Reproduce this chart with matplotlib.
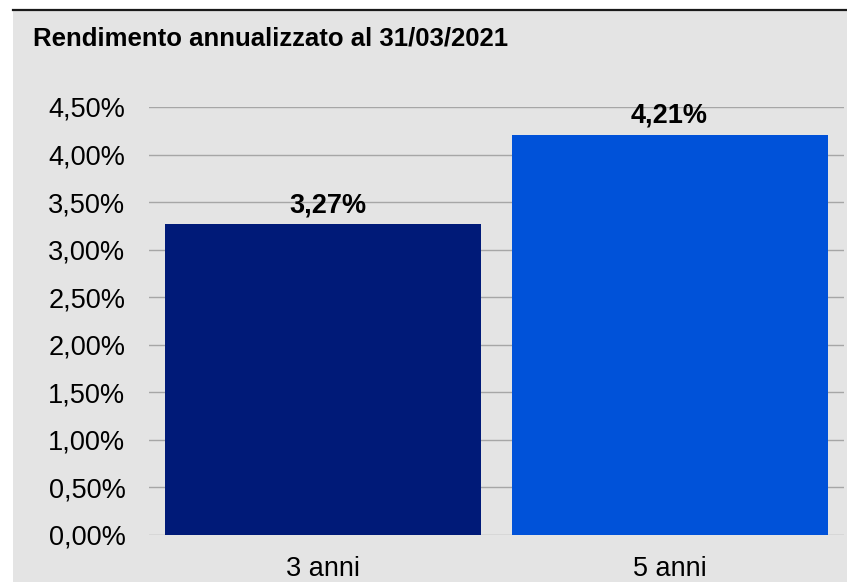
import matplotlib.pyplot as plt
from matplotlib.ticker import FuncFormatter, MultipleLocator
from matplotlib.patches import Rectangle
from matplotlib.lines import Line2D

plt.rcParams['font.family'] = ['Liberation Sans', 'DejaVu Sans']

# Data
categories = ['3 anni', '5 anni']
rendimenti = [3.27, 4.21]  # annualized return (%)
bar_colors = ['#001a78', '#0052d9']
title = 'Rendimento annualizzato al 31/03/2021'

W, H = 847, 582
fig = plt.figure(figsize=(W / 100, H / 100), dpi=100, facecolor='white')

# Gray panel and black top rule (kept behind the axes)
fig.patches.append(Rectangle((13 / W, 0), 1 - 13 / W, (H - 11) / H,
                             transform=fig.transFigure, facecolor='#e4e4e4',
                             edgecolor='none', zorder=-10))
fig.lines.append(Line2D([13 / W, 1], [(H - 10) / H, (H - 10) / H],
                        transform=fig.transFigure, color='#1a1a1a', lw=1.6,
                        zorder=-5))

fig.text(33 / W, 1 - 38 / H, title, fontsize=18.5, fontweight='bold',
         ha='left', va='center')

ax = fig.add_axes([149 / W, 47 / H, 695 / W, 428 / H])
ax.set_facecolor('none')

x = range(len(categories))
bars = ax.bar(x, rendimenti, width=0.91, color=bar_colors, zorder=3)

# Value labels above bars (first one sits a bit right of centre in the original)
label_dx = [3.5, -1]
for b, v, dx in zip(bars, rendimenti, label_dx):
    ax.annotate(f'{v:.2f}%'.replace('.', ','),
                (b.get_x() + b.get_width() / 2, v),
                xytext=(dx, 8.5), textcoords='offset points',
                ha='center', va='baseline', fontsize=19.5, fontweight='bold')

ax.set_xlim(-0.5, 1.5)
ax.set_ylim(0, 4.5)
ax.yaxis.set_major_locator(MultipleLocator(0.5))
ax.yaxis.set_major_formatter(FuncFormatter(lambda v, p: f'{v:.2f}%'.replace('.', ',')))
ax.grid(axis='y', color='#a6a6a6', lw=1.0, zorder=1)
ax.set_xticks(list(x))
ax.set_xticklabels(categories)

for s in ax.spines.values():
    s.set_visible(False)
ax.tick_params(axis='y', length=0, pad=17, labelsize=19.5)
ax.tick_params(axis='x', length=0, pad=15, labelsize=19.5)

fig.savefig('out.png', dpi=100)
